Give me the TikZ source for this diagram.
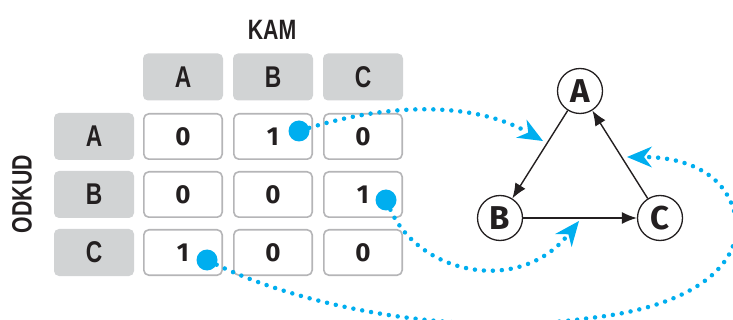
\documentclass[tikz,border=0pt]{standalone}
\usepackage{fontspec}
\usetikzlibrary{arrows.meta}
\newfontfamily\hdrfont[FakeStretch=0.76]{Liberation Sans Bold}
\newfontfamily\numfont{Fira Sans}
\definecolor{hdrgray}{HTML}{D1D3D4}
\definecolor{cellgray}{HTML}{B5B5B7}
\definecolor{dotblue}{HTML}{00AEEF}
\definecolor{ink}{HTML}{231F20}
\begin{document}
\begin{tikzpicture}[x=1pt,y=-1pt,
  hdr/.style={fill=hdrgray, rounded corners=5pt, minimum width=80pt, minimum height=47pt, inner sep=0pt, text=ink, font=\hdrfont\fontsize{30}{30}\selectfont},
  cell/.style={fill=white, draw=cellgray, line width=1.6pt, rounded corners=5pt, minimum width=78.4pt, minimum height=45.4pt, inner sep=0pt, text=ink, font=\numfont\bfseries\fontsize{26}{26}\selectfont},
  blob/.style={circle, fill=dotblue, minimum size=21pt, inner sep=0pt},
  link/.style={draw=dotblue, line width=4.5pt, line cap=round, dash pattern=on 0pt off 9pt, -{Stealth[length=25pt,width=21pt,inset=8pt,line width=0pt,fill=dotblue]}},
  vert/.style={circle, draw=ink, line width=1.3pt, minimum size=45pt, inner sep=0pt, fill=white, text=ink, font=\numfont\bfseries\fontsize{33}{33}\selectfont},
  edgearrow/.style={draw=ink, line width=1.4pt, -{Latex[length=15pt,width=12pt]}},
  lbl/.style={text=ink, font=\hdrfont\fontsize{28}{28}\selectfont}
]
\useasboundingbox (0,0) rectangle (733,320);
% titles
\node[lbl] (kam) at (272,30) {KAM};
\node[lbl, rotate=90] (odkud) at (22,194) {ODKUD};
% column headers
\node[hdr] (hA) at (183,77) {A};
\node[hdr] (hB) at (273,77) {B};
\node[hdr] (hC) at (363,77) {C};
% row headers
\node[hdr] (rA) at (94,136.5) {A};
\node[hdr] (rB) at (94,194.5) {B};
\node[hdr] (rC) at (94,252.5) {C};
% matrix
\node[cell] (cAA) at (183,136.5) {0};
\node[cell] (cAB) at (273,136.5) {1};
\node[cell] (cAC) at (363,136.5) {0};
\node[cell] (cBA) at (183,194.5) {0};
\node[cell] (cBB) at (273,194.5) {0};
\node[cell] (cBC) at (363,194.5) {1};
\node[cell] (cCA) at (183,252.5) {1};
\node[cell] (cCB) at (273,252.5) {0};
\node[cell] (cCC) at (363,252.5) {0};
% blobs
\node[blob] (b1) at (299,131) {};
\node[blob] (b2) at (386,200) {};
\node[blob] (b3) at (207,260) {};
% graph
\node[vert] (A) at (580,91) {A};
\node[vert] (B) at (500,218) {B};
\node[vert] (C) at (660,218) {C};
\draw[edgearrow] (A) -- (B);
\draw[edgearrow] (B) -- (C);
\draw[edgearrow] (C) -- (A);
% arrow targets
\coordinate (t1) at (543,141);
\coordinate (t2) at (579,221);
\coordinate (t3) at (627,157);
\draw[link] (b1) .. controls (400,100) and (480,105) .. (t1);
\draw[link] (b2) .. controls (420,275) and (520,295) .. (t2);
\draw[link] (b3) .. controls (300,305) and (450,338) .. (590,318)
  .. controls (700,306) and (745,260) .. (735,215)
  .. controls (725,170) and (680,157) .. (t3);
\end{tikzpicture}
\end{document}
